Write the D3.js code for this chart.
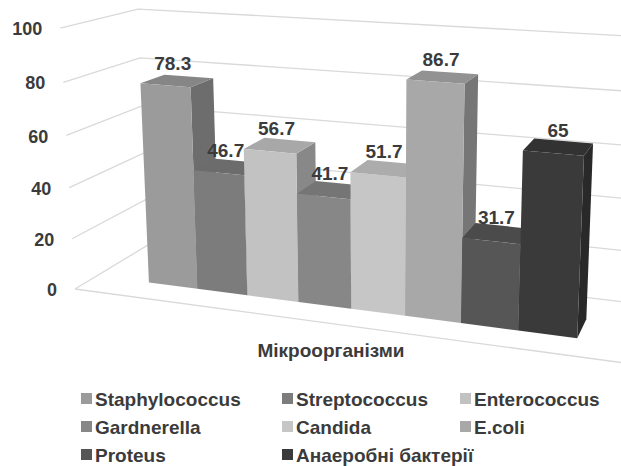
<!DOCTYPE html>
<html>
<head>
<meta charset="utf-8">
<script src="https://cdn.jsdelivr.net/npm/d3@7"></script>
<style>
  body { margin: 0; background: #fff; }
  text { font-family: "Liberation Sans", Arial, sans-serif; font-weight: bold; fill: #3b3b3b; }
</style>
</head>
<body>
<div id="chart"></div>
<script>
// data
const categories = ["Staphylococcus", "Streptococcus", "Enterococcus", "Gardnerella", "Candida", "E.coli", "Proteus", "Анаеробні бактерії"];
const values = [78.3, 46.7, 56.7, 41.7, 51.7, 86.7, 31.7, 65];
const yTicks = [0, 20, 40, 60, 80, 100];
const axisTitle = "Мікроорганізми";

// front colour of every series (grey shades)
const colors = ["#9b9b9b", "#7c7c7c", "#c2c2c2", "#878787", "#c6c6c6", "#a8a8a8", "#565656", "#3a3a3a"];

const width = 621;
const height = 466;

const svg = d3
  .select("#chart")
  .append("svg")
  .attr("width", width)
  .attr("height", height);

// world scales: x across categories, y for values, z is depth (0 front, 1 back)
const x = d3.scaleBand().domain(categories).range([0, 1]).paddingInner(0).paddingOuter(1.1);
const y = d3.scaleLinear().domain([0, 100]).range([0, 1]);

// perspective: origin = front-left-bottom corner, vanishing points of the three axes
const origin = [75, 289];
const vpX = [-3484, -190], vpY = [380, 5700], vpZ = [815, -157];
const kx = -0.1366, ky = -0.046, kz = 0.1095;

function project(X, Y, Z) {
  const hx = origin[0] + X * kx * vpX[0] + Y * ky * vpY[0] + Z * kz * vpZ[0];
  const hy = origin[1] + X * kx * vpX[1] + Y * ky * vpY[1] + Z * kz * vpZ[1];
  const w = 1 + X * kx + Y * ky + Z * kz;
  return [hx / w, hy / w];
}

const line = d3.line();
const poly = (pts) => line(pts.map((p) => project(...p))) + "Z";

// walls: gridlines on the side wall and back wall
const grid = svg.append("g").attr("fill", "none").attr("stroke", "#d9d9d9").attr("stroke-width", 1.3);

yTicks.forEach((t) => {
  grid.append("path").attr("d", line([project(0, y(t), 0), project(0, y(t), 1), project(1, y(t), 1)]));
});

// front edge of the floor
grid.append("path").attr("d", line([project(0, 0, 0), project(1, 0, 0)]));

// y axis labels
svg
  .append("g")
  .selectAll("text")
  .data(yTicks)
  .join("text")
  .attr("x", (d) => project(0, y(d), 0)[0] - 18)
  .attr("y", (d) => project(0, y(d), 0)[1])
  .attr("dy", "0.4em")
  .attr("text-anchor", "end")
  .style("font-size", "18px")
  .text((d) => d);

// bars, drawn left to right (right side is nearer)
const z0 = 0.28, z1 = 0.61;
const bars = svg.append("g");

categories.forEach((c, i) => {
  const X0 = x(c);
  const X1 = X0 + x.bandwidth();
  const Y1 = y(values[i]);
  const base = d3.color(colors[i]);
  const g = bars.append("g");

  // right side
  g.append("path")
    .attr("d", poly([[X1, 0, z0], [X1, 0, z1], [X1, Y1, z1], [X1, Y1, z0]]))
    .attr("fill", base.darker(1.0));
  // top
  g.append("path")
    .attr("d", poly([[X0, Y1, z0], [X1, Y1, z0], [X1, Y1, z1], [X0, Y1, z1]]))
    .attr("fill", base.darker(0.4));
  // front
  g.append("path")
    .attr("d", poly([[X0, 0, z0], [X1, 0, z0], [X1, Y1, z0], [X0, Y1, z0]]))
    .attr("fill", base);
});

// value labels above the bars
svg
  .append("g")
  .selectAll("text")
  .data(values)
  .join("text")
  .attr("x", (d, i) => project(x(categories[i]) + x.bandwidth() / 2, y(d), 0.34)[0] + 3)
  .attr("y", (d, i) => project(x(categories[i]) + x.bandwidth() / 2, y(d), 0.34)[1] - 14)
  .attr("text-anchor", "middle")
  .style("font-size", "19px")
  .text((d) => d);

// category axis title
svg
  .append("text")
  .attr("x", 331)
  .attr("y", 357)
  .attr("text-anchor", "middle")
  .style("font-size", "19px")
  .text(axisTitle);

// legend, three columns
const legendCols = [81, 282, 460];
const legendRows = [406, 434, 462];

const legend = svg
  .append("g")
  .selectAll("g")
  .data(categories)
  .join("g")
  .attr("transform", (d, i) => `translate(${legendCols[i % 3]},${legendRows[Math.floor(i / 3)]})`);

legend
  .append("rect")
  .attr("x", 0)
  .attr("y", -13)
  .attr("width", 11)
  .attr("height", 11)
  .attr("fill", (d, i) => colors[i]);

legend
  .append("text")
  .attr("x", 14)
  .style("font-size", "19px")
  .text((d) => d);
</script>
</body>
</html>
